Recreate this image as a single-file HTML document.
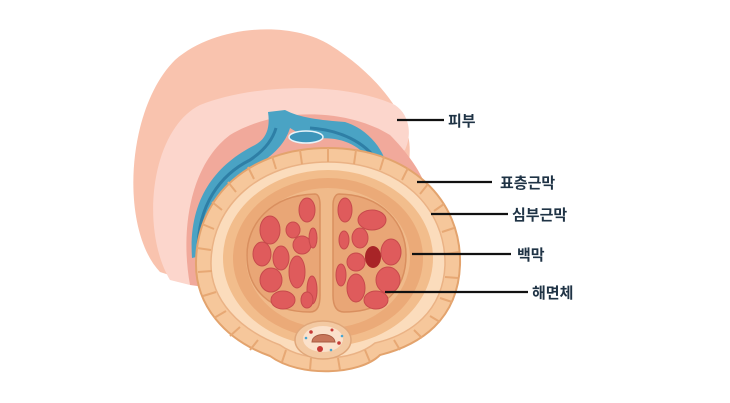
<!DOCTYPE html>
<html><head><meta charset="utf-8"><style>
html,body{margin:0;padding:0;background:#fff;width:730px;height:403px;overflow:hidden}
text{font-family:"Liberation Sans","Noto Sans CJK KR",sans-serif;font-size:15px;fill:#1f3345;font-weight:bold}
</style></head><body>
<svg width="730" height="403" viewBox="0 0 730 403">
<!-- skin back -->
<path d="M160 272 C120 230 125 110 175 60 C215 25 290 20 330 45 C370 70 400 105 408 135 C415 165 400 200 380 220 L200 285 Z" fill="#f9c3ae"/>
<!-- lighter band -->
<path d="M170 280 C140 230 150 130 200 105 C250 85 340 80 395 105 C410 115 412 135 405 150 L380 160 C330 120 260 125 220 160 C195 185 185 230 190 285 Z" fill="#fcd6cc"/>
<!-- darker inner -->
<path d="M190 285 C180 230 190 165 230 135 C280 105 350 110 390 135 C405 150 420 170 425 185 L300 300 Z" fill="#f1a99b"/>
<!-- blue vessel -->
<path d="M192 258 C188 200 215 165 255 145 C268 138 270 125 268 112 L285 110 C300 118 320 120 345 122 C365 128 380 145 385 160 L372 165 C360 140 330 135 310 140 L290 128 C285 145 270 160 240 175 C215 190 205 215 205 255 Z" fill="#4aa3c4"/>
<path d="M198 250 C198 205 220 175 250 160 C262 152 272 142 276 128" stroke="#2e7fa6" stroke-width="3" fill="none"/>
<path d="M310 128 C340 130 365 142 378 162" stroke="#2e7fa6" stroke-width="3" fill="none"/>
<ellipse cx="306" cy="137" rx="17" ry="6" fill="#3e96bb" stroke="#e8f4fa" stroke-width="1.5"/>
<!-- cross section outer -->
<path d="M328 148 C410 148 462 200 460 265 C458 320 420 345 380 355 C360 375 300 378 270 356 C225 340 195 305 196 262 C197 195 250 148 328 148 Z" fill="#f6c79b" stroke="#e3a36d" stroke-width="2"/>
<path d="M328 162 C400 162 446 208 445 265 C443 312 410 335 375 343 C352 362 305 363 280 345 C240 330 210 300 211 262 C212 205 260 162 328 162 Z" fill="#fbdcbc" stroke="#eab285" stroke-width="1.5"/>
<!-- ticks -->
<g stroke="#e7a874" stroke-width="2" fill="none">
<path d="M328 148 L328 162 M300 150 L302 164 M272 156 L276 169 M248 167 L254 179 M228 182 L236 192 M212 202 L222 210 M202 224 L214 229 M197 248 L211 250 M198 272 L212 271 M203 296 L216 292 M214 318 L226 311 M230 336 L240 327 M250 350 L258 340 M356 150 L354 164 M384 157 L380 170 M408 168 L402 180 M428 184 L420 194 M444 204 L434 211 M454 228 L442 232 M459 252 L446 254 M458 278 L445 277 M452 302 L440 298 M440 322 L430 316 M422 338 L414 330 M400 350 L394 340 M370 362 L365 350 M340 370 L338 358 M310 370 L311 358 M282 362 L286 350"/>
</g>
<ellipse cx="328" cy="258" rx="105" ry="88" fill="#f2bd8c"/>
<ellipse cx="328" cy="258" rx="95" ry="80" fill="#ebaa78"/>
<ellipse cx="328" cy="258" rx="82" ry="70" fill="#f0ba8a"/>
<!-- lobes -->
<path d="M315 194 C270 195 247 225 247 255 C247 290 270 312 310 312 C318 312 320 305 320 295 L320 205 C320 198 318 194 315 194 Z" fill="#e9a676" stroke="#d98f5f" stroke-width="1.5"/>
<path d="M339 194 C384 195 406 225 406 255 C406 290 384 312 344 312 C336 312 333 305 333 295 L333 205 C333 198 336 194 339 194 Z" fill="#e9a676" stroke="#d98f5f" stroke-width="1.5"/>
<g fill="#df5b5c" stroke="#c74a4c" stroke-width="1">
<ellipse cx="270" cy="230" rx="10" ry="14"/><ellipse cx="307" cy="210" rx="8" ry="12"/><ellipse cx="293" cy="230" rx="7" ry="8"/>
<ellipse cx="262" cy="254" rx="9" ry="12"/><ellipse cx="281" cy="258" rx="8" ry="12"/><ellipse cx="302" cy="245" rx="9" ry="9"/>
<ellipse cx="271" cy="280" rx="11" ry="12"/><ellipse cx="297" cy="272" rx="8" ry="16"/><ellipse cx="283" cy="300" rx="12" ry="9"/>
<ellipse cx="312" cy="290" rx="5" ry="14"/><ellipse cx="313" cy="238" rx="4" ry="10"/><ellipse cx="307" cy="300" rx="6" ry="8"/>
<ellipse cx="345" cy="210" rx="7" ry="12"/><ellipse cx="372" cy="220" rx="14" ry="10"/><ellipse cx="360" cy="238" rx="8" ry="10"/>
<ellipse cx="391" cy="252" rx="10" ry="13"/><ellipse cx="344" cy="240" rx="5" ry="9"/><ellipse cx="356" cy="262" rx="9" ry="9"/>
<ellipse cx="388" cy="280" rx="12" ry="13"/><ellipse cx="356" cy="288" rx="9" ry="14"/><ellipse cx="376" cy="300" rx="12" ry="9"/>
<ellipse cx="341" cy="275" rx="5" ry="11"/>
</g>
<ellipse cx="373" cy="257" rx="8" ry="11" fill="#a82427"/>
<!-- urethra -->
<ellipse cx="323" cy="340" rx="28" ry="19" fill="#f3c9a2" stroke="#e0a77a" stroke-width="1.5"/>
<ellipse cx="323" cy="339" rx="20" ry="13" fill="#fbe1cb"/>
<path d="M312 342 C312 332 334 332 335 342 Z" fill="#c8765a" stroke="#a85a40"/>
<g fill="#c73a36"><circle cx="320" cy="349" r="3"/><circle cx="311" cy="332" r="1.8"/><circle cx="332" cy="330" r="1.5"/><circle cx="339" cy="343" r="1.8"/></g>
<g fill="#49a6d0"><circle cx="306" cy="338" r="1.3"/><circle cx="342" cy="336" r="1.3"/><circle cx="331" cy="350" r="1.3"/></g>
<!-- labels -->
<g stroke="#111" stroke-width="2.2">
<line x1="397" y1="120" x2="444" y2="120"/>
<line x1="417" y1="182" x2="492" y2="182"/>
<line x1="431" y1="214" x2="508" y2="214"/>
<line x1="412" y1="254" x2="511" y2="254"/>
<line x1="385" y1="292" x2="528" y2="292"/>
</g>
<text x="448" y="126">피부</text>
<text x="500" y="188">표층근막</text>
<text x="512" y="220">심부근막</text>
<text x="517" y="260">백막</text>
<text x="532" y="298">해면체</text>
</svg>
</body></html>
